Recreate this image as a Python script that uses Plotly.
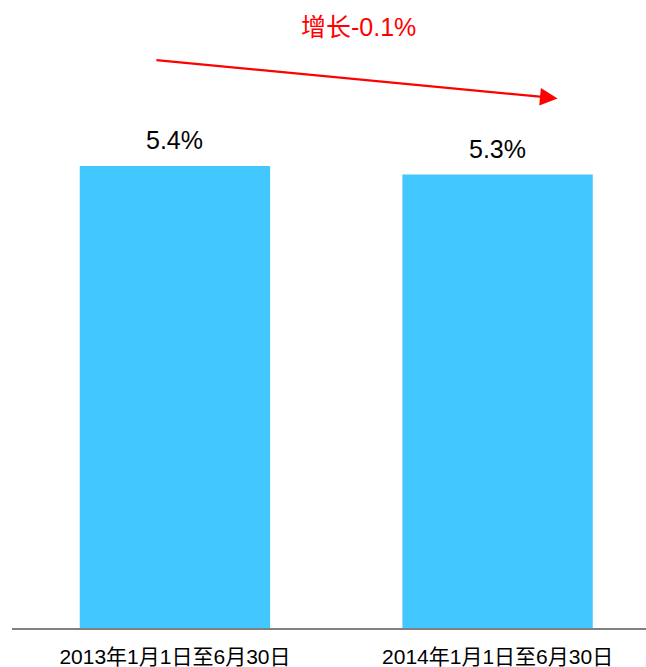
import plotly.graph_objects as go

# Periods and their values (%)
categories = ["2013年1月1日至6月30日", "2014年1月1日至6月30日"]
values = [5.4, 5.3]
labels = ["5.4%", "5.3%"]
change_label = "增长-0.1%"

BAR_COLOR = "#43C7FF"
FONT = "Liberation Sans, Arial, Noto Sans CJK SC, sans-serif"

x_idx = list(range(len(categories)))

fig = go.Figure(
    go.Bar(
        x=x_idx,
        y=values,
        width=0.59,
        marker=dict(color=BAR_COLOR, line=dict(width=0)),
        hoverinfo="skip",
    )
)

# value labels above each bar
for xi, v, t in zip(x_idx, values, labels):
    fig.add_annotation(
        x=xi, y=v, text=t, showarrow=False, yshift=26,
        font=dict(family=FONT, size=25, color="#000000"),
    )

# trend arrow from the first bar to the second
fig.add_annotation(
    x=1.186, y=6.19, ax=-0.062, ay=6.64,
    xref="x", yref="y", axref="x", ayref="y",
    text="", showarrow=True, arrowhead=2, arrowsize=1.6,
    arrowwidth=2.2, arrowcolor="#FF0000",
)
fig.add_annotation(
    x=0.57, y=7.02, xref="x", yref="y", text=change_label, showarrow=False,
    font=dict(family="Liberation Sans, Noto Sans CJK SC, sans-serif", size=25, color="#FF0000"),
)

fig.update_layout(
    width=646, height=667,
    margin=dict(l=12, r=0, t=0, b=39),
    paper_bgcolor="white", plot_bgcolor="white",
    showlegend=False,
    xaxis=dict(
        tickmode="array", tickvals=x_idx, ticktext=categories,
        range=[-0.505, 1.46],
        showgrid=False, zeroline=False,
        showline=True, linecolor="#808080", linewidth=1.5,
        ticks="", ticklabelstandoff=9,
        tickfont=dict(family=FONT, size=21, color="#000000"),
    ),
    yaxis=dict(
        range=[0, 7.34], visible=False, showgrid=False, zeroline=False,
    ),
)

fig.write_html("out.html")
